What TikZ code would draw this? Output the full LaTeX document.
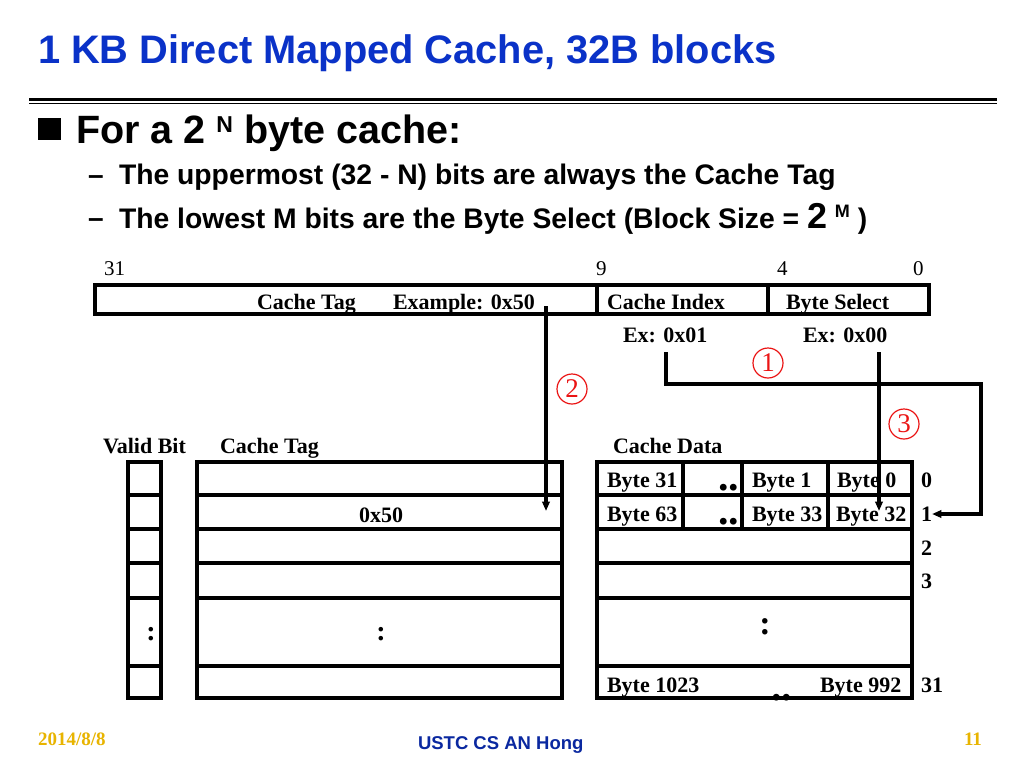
\documentclass[tikz,border=0pt]{standalone}
\usepackage{fontspec}
\setmainfont{Liberation Serif}
\setsansfont{Liberation Sans}
\usetikzlibrary{arrows.meta}
\definecolor{titleblue}{RGB}{10,50,200}
\definecolor{footblue}{RGB}{10,40,160}
\definecolor{dategold}{RGB}{232,180,0}
\definecolor{circred}{RGB}{235,20,20}
\newcommand{\px}[1]{\fontsize{#1\dimexpr 0.75pt\relax}{#1\dimexpr 0.9pt\relax}\selectfont}
\begin{document}
\begin{tikzpicture}[x=0.75pt,y=-0.75pt,
  txt/.style={anchor=base west,inner sep=0pt,outer sep=0pt},
  cell/.style={txt,font=\px{22}\bfseries},
  num/.style={txt,font=\px{21}},
  head/.style={txt,font=\sffamily\bfseries\px{28.3}},
  dotsx/.style={inner sep=0pt,outer sep=0pt,font=\px{42}\bfseries},
  colonx/.style={inner sep=0pt,outer sep=0pt,font=\px{28}\bfseries},
  box/.style={line width=2.3pt},
  arr/.style={line width=2.3pt,-{Triangle[length=7pt,width=5.5pt]}},
  circnum/.style={circle,draw=circred,line width=0.9pt,text=circred,minimum size=30pt*0.75,inner sep=0pt,font=\px{27}}
]
\useasboundingbox (0,0) rectangle (1024,768);
\fill[white] (0,0) rectangle (1024,768);

% title
\node[txt,font=\sffamily\bfseries\px{39.8},text=titleblue] (title) at (38,63) {1 KB Direct Mapped Cache, 32B blocks};
\draw[line width=2.4pt] (29,99.5) -- (997,99.5);
\draw[line width=1pt] (29,103.5) -- (997,103.5);

% bullets
\fill (38,118) rectangle (61,140);
\node[txt,font=\sffamily\bfseries\px{39.5}] (b1) at (76,143) {For a 2 \raisebox{8pt}{\px{23}N} byte cache:};
\node[txt,font=\sffamily\bfseries\px{28}] (d1) at (88,184) {\char"2013};
\node[head] (s1) at (119,184) {The uppermost (32 - N) bits are always the Cache Tag};
\node[txt,font=\sffamily\bfseries\px{28}] (d2) at (88,227) {\char"2013};
\node[head] (s2) at (119,228) {The lowest M bits are the Byte Select (Block Size = {\px{36}2} \raisebox{8pt}{\px{18}M} )};

% address bar
\draw[box] (95,285) rectangle (929,314);
\draw[box] (597,285) -- (597,314);
\draw[box] (768,285) -- (768,314);
\node[num] (n31) at (104,275) {31};
\node[num] (n9) at (596,275) {9};
\node[num] (n4) at (777,275) {4};
\node[num] (n0) at (913,275) {0};
\node[cell] (ctag) at (257,309) {Cache Tag};
\node[cell] (ex50) at (393,309) {Example: 0x50};
\node[cell] (cidx) at (607,309) {Cache Index};
\node[cell] (bsel) at (786,309) {Byte Select};
\node[cell] (ex01) at (623,342) {Ex: 0x01};
\node[cell] (ex00) at (803,342) {Ex: 0x00};

% circled numbers
\node[circnum] (c1) at (768,363) {1};
\node[circnum] (c2) at (572,389) {2};
\node[circnum] (c3) at (904,424) {3};

% headers
\node[cell] (hvalid) at (103,453) {Valid Bit};
\node[cell] (htag) at (220,453) {Cache Tag};
\node[cell] (hdata) at (613,453) {Cache Data};

% valid column
\draw[box] (128,462) rectangle (161,698);
\foreach \y in {495,529,563,598,666} \draw[box] (128,\y) -- (161,\y);
% tag column
\draw[box] (197,462) rectangle (562,698);
\foreach \y in {495,529,563,598,666} \draw[box] (197,\y) -- (562,\y);
% data column
\draw[box] (597,462) rectangle (912,698);
\foreach \y in {495,529,563,598,666} \draw[box] (597,\y) -- (912,\y);
\foreach \x in {683,742,828} \draw[box] (\x,462) -- (\x,529);

% tag contents
\node[cell] (t50) at (359,522) {0x50};
\node[colonx] (vcol) at (151,634) {:};
\node[colonx] (tcol) at (381,634) {:};
\node[colonx,font=\px{34}\bfseries] (dcol) at (765,627) {:};

% data contents
\node[cell] (b31) at (607,487) {Byte 31};
\node[dotsx,anchor=base east] (dd0) at (739,490) {..};
\node[cell] (b1c) at (752,487) {Byte 1};
\node[cell] (b0c) at (837,487) {Byte 0};
\node[cell] (b63) at (607,521) {Byte 63};
\node[dotsx,anchor=base east] (dd1) at (739,524) {..};
\node[cell] (b33) at (752,521) {Byte 33};
\node[cell] (b32) at (836,521) {Byte 32};
\node[cell] (b1023) at (607,692) {Byte 1023};
\node[dotsx,anchor=base west] (dd31) at (771,700) {..};
\node[cell] (b992) at (820,692) {Byte 992};

% row labels
\node[cell] (r0) at (921,487) {0};
\node[cell] (r1) at (921,521) {1};
\node[cell] (r2) at (921,555) {2};
\node[cell] (r3) at (921,588) {3};
\node[cell] (r31) at (921,692) {31};

% connectors
\coordinate (tagsrc) at (546,306);
\coordinate (tagdst) at (546,511);
\draw[arr] (tagsrc) -- (tagdst);
\coordinate (idxsrc) at (666,352);
\coordinate (idxturn) at (981,384);
\coordinate (idxdst) at (932,514);
\draw[arr] (idxsrc) |- (idxturn) |- (idxdst);
\coordinate (bytesrc) at (879,352);
\coordinate (bytedst) at (879,511);
\draw[arr] (bytesrc) -- (bytedst);

% footer
\node[txt,font=\px{19}\bfseries,text=dategold] (date) at (38,745) {2014/8/8};
\node[txt,font=\sffamily\bfseries\px{18.5},text=footblue] (foot) at (418,749) {USTC CS AN Hong};
\node[txt,font=\px{19}\bfseries,text=dategold] (page) at (964,745) {11};
\end{tikzpicture}
\end{document}
